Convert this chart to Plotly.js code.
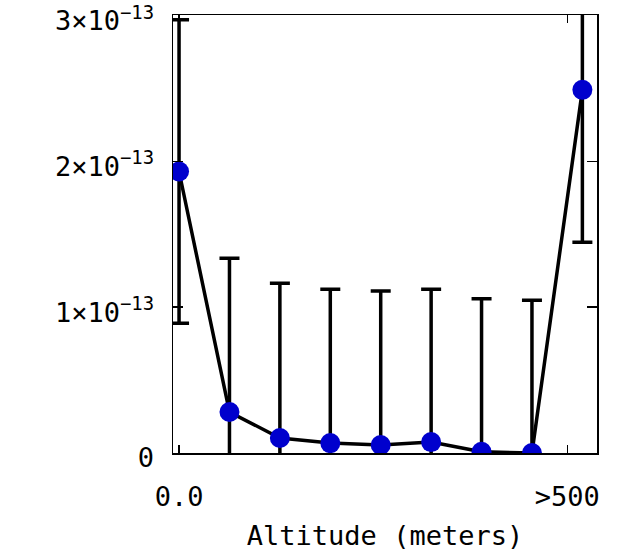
<!DOCTYPE html>
<html>
<head>
<meta charset="utf-8">
<script src="https://cdn.plot.ly/plotly-3.0.1.min.js"></script>
<style>html,body{margin:0;padding:0;background:#fff;}</style>
</head>
<body>
<div id="chart" style="width:622px;height:557px;"></div>
<script>
// Altitude bins (index positions) and values
const binIndex = [0, 1, 2, 3, 4, 5, 6, 7, 8];
const values = [1.93e-13, 0.281e-13, 0.103e-13, 0.068e-13, 0.055e-13, 0.075e-13, 0.008e-13, 0.0, 2.49e-13];
const errors = [1.04e-13, 1.055e-13, 1.06e-13, 1.055e-13, 1.055e-13, 1.048e-13, 1.05e-13, 1.048e-13, 1.045e-13];
const xTickVals = [0, 7.7];
const xTickText = ['0.0', '&gt;500'];
const yTickVals = [0, 1e-13, 2e-13, 3e-13];
const yTickText = ['0', '1×10<sup>−13</sup>', '2×10<sup>−13</sup>', '3×10<sup>−13</sup>'];

const FONT = 'DejaVu Sans Mono, monospace';

const trace = {
  x: binIndex,
  y: values,
  type: 'scatter',
  mode: 'lines+markers',
  line: {color: 'black', width: 3.5},
  marker: {color: 'rgb(0,0,205)', size: 20},
  error_y: {type: 'data', array: errors, visible: true, color: 'black', thickness: 3.5, width: 10},
  hoverinfo: 'none'
};

const layout = {
  width: 622,
  height: 557,
  margin: {l: 173, r: 25, t: 15, b: 104},
  paper_bgcolor: 'white',
  plot_bgcolor: 'white',
  showlegend: false,
  font: {family: FONT, size: 27, color: 'black'},
  xaxis: {
    range: [-0.12, 8.29],
    tickvals: xTickVals,
    ticktext: xTickText,
    ticks: 'inside',
    ticklen: 8,
    tickwidth: 1.5,
    tickcolor: 'black',
    showline: true,
    linecolor: 'black',
    linewidth: 1.5,
    mirror: 'ticks',
    showgrid: false,
    zeroline: false,
    ticklabelstandoff: 19,
    ticklabeloverflow: 'allow',
    tickfont: {family: FONT, size: 27, color: 'black'},
    title: {text: 'Altitude (meters)', font: {family: FONT, size: 27, color: 'black'}, standoff: 15}
  },
  yaxis: {
    range: [0, 3.003e-13],
    tickvals: yTickVals,
    ticktext: yTickText,
    ticks: 'inside',
    ticklen: 10,
    tickwidth: 1.5,
    tickcolor: 'black',
    showline: true,
    linecolor: 'black',
    linewidth: 1.5,
    mirror: 'ticks',
    showgrid: false,
    zeroline: false,
    ticklabelstandoff: 12,
    ticklabelshift: 5,
    ticklabeloverflow: 'allow',
    tickfont: {family: FONT, size: 27, color: 'black'}
  }
};

Plotly.newPlot('chart', [trace], layout, {staticPlot: true, displayModeBar: false});
</script>
</body>
</html>
